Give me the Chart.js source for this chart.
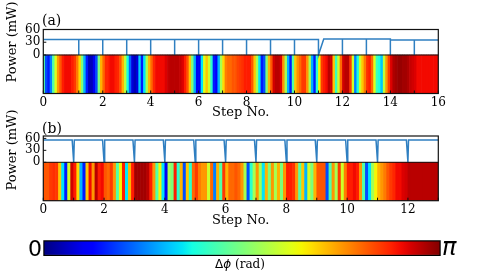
<!DOCTYPE html>
<html>
<head>
<meta charset="utf-8">
<script src="https://cdn.jsdelivr.net/npm/chart.js@4.4.0/dist/chart.umd.min.js"></script>
<style>
  body { margin: 0; background: #fff; }
  #wrap { position: relative; width: 481px; height: 272px; overflow: hidden; font-family: 'DejaVu Serif', serif; color: #000; }
  canvas { position: absolute; left: 0; }
  .lbl { position: absolute; white-space: nowrap; line-height: 1; }
  .rot { position: absolute; white-space: nowrap; line-height: 1; font-size: 13px; transform: translate(-50%, -50%) rotate(-90deg); }
</style>
</head>
<body>
<div id="wrap">
  <canvas id="panelA" width="481" height="122" style="top:0px"></canvas>
  <canvas id="panelB" width="481" height="124" style="top:106px"></canvas>
  <canvas id="cbar" width="481" height="40" style="top:232px"></canvas>

  <div class="lbl" style="left:42px; top:13px; font-size:14px">(a)</div>
  <div class="lbl" style="left:42px; top:121px; font-size:14px">(b)</div>
  <div class="rot" style="left:11px; top:42px">Power (mW)</div>
  <div class="rot" style="left:11px; top:150px">Power (mW)</div>
  <div class="lbl" style="left:28px; top:238px; font-size:22px; line-height:22px; font-family:'DejaVu Sans'">0</div>
  <div class="lbl" style="left:442px; top:235px; font-size:24px; line-height:24px; font-family:'DejaVu Sans'; font-style:italic">π</div>
  <div class="lbl" style="left:240px; top:264px; font-size:12px; transform:translate(-50%,-50%)"><span style="font-family:'DejaVu Sans'">Δ<i>ϕ</i></span> (rad)</div>
</div>

<script>
// ---- data ----
// panel (a): step positions / power levels of the pump trace (mW)
const powerAx = [-0.48, 1, 1, 1, 2, 2, 2, 3, 3, 3, 4, 4, 4, 5, 5, 5, 6, 6, 6, 7, 7, 7, 8, 8, 8,
                 9, 9, 9, 10, 10, 10, 11, 11, 11.22, 12, 12, 12, 13, 13, 13, 14, 14, 14, 15, 15, 15, 16];
const powerAy = [36.5, 36.5, 0, 36.5, 36.5, 0, 36.5, 36.5, 0, 36.5, 36.5, 0, 36.5, 36.5, 0, 36.5,
                 36.5, 0, 36.5, 36.5, 0, 36.5, 36.5, 0, 36.5, 36.5, 0, 36.5, 36.5, 0, 36.5,
                 36.5, 0, 37.5, 37.5, 0, 37.5, 37.5, 0, 37.5, 37.5, 0, 35, 35, 0, 35.5, 35.5];

// panel (b)
const powerBx = [0, 0.95, 1, 1.02, 1.95, 2, 2.02, 2.95, 3, 3.02, 3.95, 4, 4.02, 4.95, 5, 5.02,
                 5.95, 6, 6.02, 6.95, 7, 7.02, 7.95, 8, 8.02, 8.95, 9, 9.02, 9.95, 10, 10.02,
                 10.95, 11, 11.02, 11.95, 12, 12.02, 13];
const powerBy = [56, 56, 0, 56, 56, 0, 56, 56, 0, 56, 56, 0, 56, 56, 0, 56,
                 56, 0, 56, 56, 0, 56, 56, 0, 56, 56, 0, 56, 56, 0, 56,
                 56, 0, 56, 56, 0, 56, 56];

// phase difference strips, in units of pi, sampled every 0.1 step
const sampleStep = 0.1;
const stripStartA = -0.45;
const phaseA = [
  0.45, 0.2, 0.15, 0.25, 0.45, 0.62, 0.75, 0.82, 0.88, 0.9,
  0.9, 0.9, 0.88, 0.85, 0.78, 0.68, 0.5, 0.3, 0.15, 0.05,
  0.05, 0.1, 0.2, 0.5, 0.72, 0.8, 0.87, 0.88, 0.9, 0.9,
  0.88, 0.87, 0.82, 0.72, 0.58, 0.38, 0.22, 0.08, 0.05, 0.08,
  0.33, 0.15, 0.35, 0.55, 0.72, 0.8, 0.87, 0.9, 0.9, 0.9,
  0.9, 0.92, 0.94, 0.95, 0.95, 0.95, 0.95, 0.94, 0.92, 0.88,
  0.82, 0.7, 0.5, 0.3, 0.1, 0.1, 0.35, 0.62, 0.7, 0.6,
  0.4, 0.15, 0.12, 0.3, 0.55, 0.68, 0.78, 0.8, 0.8, 0.82,
  0.82, 0.84, 0.85, 0.86, 0.88, 0.88, 0.88, 0.82, 0.7, 0.55,
  0.35, 0.15, 0.2, 0.5, 0.72, 0.82, 0.93, 0.95, 0.95, 0.92,
  0.75, 0.55, 0.3, 0.15, 0.45, 0.7, 0.76, 0.8, 0.85, 0.85,
  0.75, 0.55, 0.3, 0.15, 0.4, 0.65, 0.85, 0.88, 0.9, 0.95,
  0.93, 0.7, 0.42, 0.6, 0.8, 0.93, 0.95, 0.95, 0.85, 0.6,
  0.25, 0.38, 0.6, 0.7, 0.78, 0.86, 0.88, 0.8, 0.62, 0.42,
  0.38, 0.32, 0.58, 0.75, 0.85, 0.92, 0.96, 0.97, 0.98, 0.98,
  0.97, 0.97, 0.96, 0.94, 0.93, 0.92, 0.9, 0.9, 0.9, 0.9,
  0.9, 0.9, 0.9, 0.9, 0.9
];
const stripStartB = 0.05;
const phaseB = [
  0.82, 0.82, 0.85, 0.86, 0.85, 0.7, 0.35, 0.15, 0.6, 0.93,
  0.88, 0.68, 0.3, 0.15, 0.7, 0.9, 0.75, 0.95, 0.88, 0.9,
  0.82, 0.8, 0.85, 0.75, 0.45, 0.65, 0.88, 0.35, 0.72, 0.88,
  0.97, 0.97, 0.97, 0.97, 0.95, 0.88, 0.75, 0.45, 0.65, 0.35,
  0.1, 0.55, 0.5, 0.88, 0.4, 0.72, 0.2, 0.7, 0.4, 0.8,
  0.85, 0.78, 0.75, 0.75, 0.6, 0.8, 0.25, 0.72, 0.45, 0.85,
  0.72, 0.8, 0.8, 0.82, 0.8, 0.75, 0.55, 0.2, 0.4, 0.55,
  0.75, 0.55, 0.35, 0.72, 0.5, 0.75, 0.55, 0.72, 0.5, 0.75,
  0.88, 0.88, 0.86, 0.75, 0.45, 0.7, 0.3, 0.6, 0.5, 0.72,
  0.82, 0.82, 0.82, 0.2, 0.45, 0.75, 0.55, 0.85, 0.6, 0.78,
  0.88, 0.88, 0.9, 0.88, 0.75, 0.45, 0.2, 0.35, 0.55, 0.65,
  0.72, 0.75, 0.78, 0.82, 0.85, 0.87, 0.9, 0.9, 0.92, 0.93,
  0.95, 0.95, 0.95, 0.95, 0.95, 0.95, 0.95, 0.95, 0.95, 0.95
];

// tick labels
const powerTicks = [0, 30, 60];
const xTicksA = [-0.48, 1, 2, 3, 4, 5, 6, 7, 8, 9, 10, 11, 12, 13, 14, 15, 16];
const xLabelsA = ['0', '', '2', '', '4', '', '6', '', '8', '', '10', '', '12', '', '14', '', '16'];
const xTicksB = [0, 1, 2, 3, 4, 5, 6, 7, 8, 9, 10, 11, 12, 13];
const xLabelsB = ['0', '', '2', '', '4', '', '6', '', '8', '', '10', '', '12', ''];

const lineBlue = '#2f7fc1';
const serif = 'DejaVu Serif';

// matplotlib "jet" colour map
function jet(v) {
  function lerp(pts) {
    for (let i = 1; i < pts.length; i++) {
      if (v <= pts[i][0]) {
        const t = (v - pts[i - 1][0]) / (pts[i][0] - pts[i - 1][0]);
        return pts[i - 1][1] + t * (pts[i][1] - pts[i - 1][1]);
      }
    }
    return pts[pts.length - 1][1];
  }
  const r = lerp([[0, 0], [0.35, 0], [0.66, 1], [0.89, 1], [1, 0.5]]);
  const g = lerp([[0, 0], [0.125, 0], [0.375, 1], [0.64, 1], [0.91, 0], [1, 0]]);
  const b = lerp([[0, 0.5], [0.11, 1], [0.34, 1], [0.65, 0], [1, 0]]);
  return 'rgb(' + Math.round(r * 255) + ',' + Math.round(g * 255) + ',' + Math.round(b * 255) + ')';
}

// box around the plot, line under the power trace, inward ticks
const framePlugin = {
  id: 'frame',
  afterDatasetsDraw(chart) {
    const { ctx, chartArea: a, scales: { x, y } } = chart;
    ctx.save();
    ctx.strokeStyle = '#111';
    ctx.lineWidth = 1.2;
    ctx.strokeRect(a.left, a.top, a.right - a.left, a.bottom - a.top);
    const y0 = y.getPixelForValue(0);
    ctx.beginPath();
    ctx.moveTo(a.left, y0);
    ctx.lineTo(a.right, y0);
    ctx.lineWidth = 1;
    x.ticks.forEach(t => {
      const px = x.getPixelForValue(t.value);
      ctx.moveTo(px, a.bottom);
      ctx.lineTo(px, a.bottom - 3);
    });
    y.ticks.forEach(t => {
      const py = y.getPixelForValue(t.value);
      ctx.moveTo(a.left, py);
      ctx.lineTo(a.left + 3, py);
    });
    ctx.stroke();
    ctx.restore();
  }
};

function makePanel(id, cfg) {
  return new Chart(document.getElementById(id), {
    type: 'bar',
    data: {
      datasets: [{
        type: 'line',
        data: cfg.powerX.map((x, i) => ({ x: x, y: cfg.powerY[i] })),
        borderColor: lineBlue,
        borderWidth: 1.5,
        pointRadius: 0,
        tension: 0,
        order: 0
      }, {
        type: 'bar',
        data: cfg.phase.map((f, i) => ({ x: cfg.stripStart + i * sampleStep, y: [cfg.yMin, 0] })),
        backgroundColor: cfg.phase.map(jet),
        borderWidth: 0,
        barPercentage: 1,
        categoryPercentage: 1,
        order: 1
      }]
    },
    options: {
      responsive: false,
      animation: false,
      devicePixelRatio: 1,
      layout: { padding: { top: cfg.padTop, right: 42.7, left: 0, bottom: 0 } },
      plugins: { legend: { display: false }, tooltip: { enabled: false } },
      scales: {
        x: {
          type: 'linear',
          min: cfg.xMin,
          max: cfg.xMax,
          offset: false,
          grid: { display: false, drawTicks: false, offset: false },
          border: { display: false },
          afterBuildTicks: s => { s.ticks = cfg.xTicks.map(v => ({ value: v })); },
          afterFit: s => { s.height = cfg.xAxisH; },
          ticks: {
            autoSkip: false,
            maxRotation: 0,
            padding: 2,
            color: '#000',
            font: { family: serif, size: 12 },
            callback: (v, i) => cfg.xLabels[i]
          },
          title: {
            display: true,
            text: 'Step No.',
            color: '#000',
            font: { family: serif, size: 13 },
            padding: { top: 0, bottom: 1.2 }
          }
        },
        y: {
          min: cfg.yMin,
          max: cfg.yMax,
          grid: { display: false, drawTicks: false },
          border: { display: false },
          afterBuildTicks: s => { s.ticks = powerTicks.map(v => ({ value: v })); },
          afterFit: s => { s.width = 43.3; },
          ticks: { padding: 3, color: '#000', font: { family: serif, size: 12 } }
        }
      }
    },
    plugins: [framePlugin]
  });
}

makePanel('panelA', {
  powerX: powerAx, powerY: powerAy, phase: phaseA, stripStart: stripStartA,
  xMin: -0.48, xMax: 16, yMin: -90.6, yMax: 60,
  xTicks: xTicksA, xLabels: xLabelsA, padTop: 29.5, xAxisH: 28.5
});

makePanel('panelB', {
  powerX: powerBx, powerY: powerBy, phase: phaseB, stripStart: stripStartB,
  xMin: 0, xMax: 13, yMin: -96.4, yMax: 66,
  xTicks: xTicksB, xLabels: xLabelsB, padTop: 30, xAxisH: 29.3
});

// colour bar
new Chart(document.getElementById('cbar'), {
  type: 'bar',
  data: {
    labels: [''],
    datasets: [{
      data: [[0, Math.PI]],
      backgroundColor: function(context) {
        const a = context.chart.chartArea;
        if (!a) return null;
        const g = context.chart.ctx.createLinearGradient(a.left, 0, a.right, 0);
        for (let i = 0; i <= 40; i++) g.addColorStop(i / 40, jet(i / 40));
        return g;
      },
      borderColor: '#000',
      borderWidth: 1.5,
      borderSkipped: false,
      barPercentage: 1,
      categoryPercentage: 1
    }]
  },
  options: {
    indexAxis: 'y',
    responsive: false,
    animation: false,
    devicePixelRatio: 1,
    layout: { padding: { top: 8.3, right: 40.3, left: 0, bottom: 0 } },
    plugins: { legend: { display: false }, tooltip: { enabled: false } },
    scales: {
      x: {
        min: 0, max: Math.PI,
        grid: { display: false, drawTicks: false }, border: { display: false },
        ticks: { display: false },
        afterFit: s => { s.height = 16; }
      },
      y: {
        grid: { display: false, drawTicks: false }, border: { display: false },
        ticks: { display: false },
        afterFit: s => { s.width = 43.3; }
      }
    }
  }
});
</script>
</body>
</html>
